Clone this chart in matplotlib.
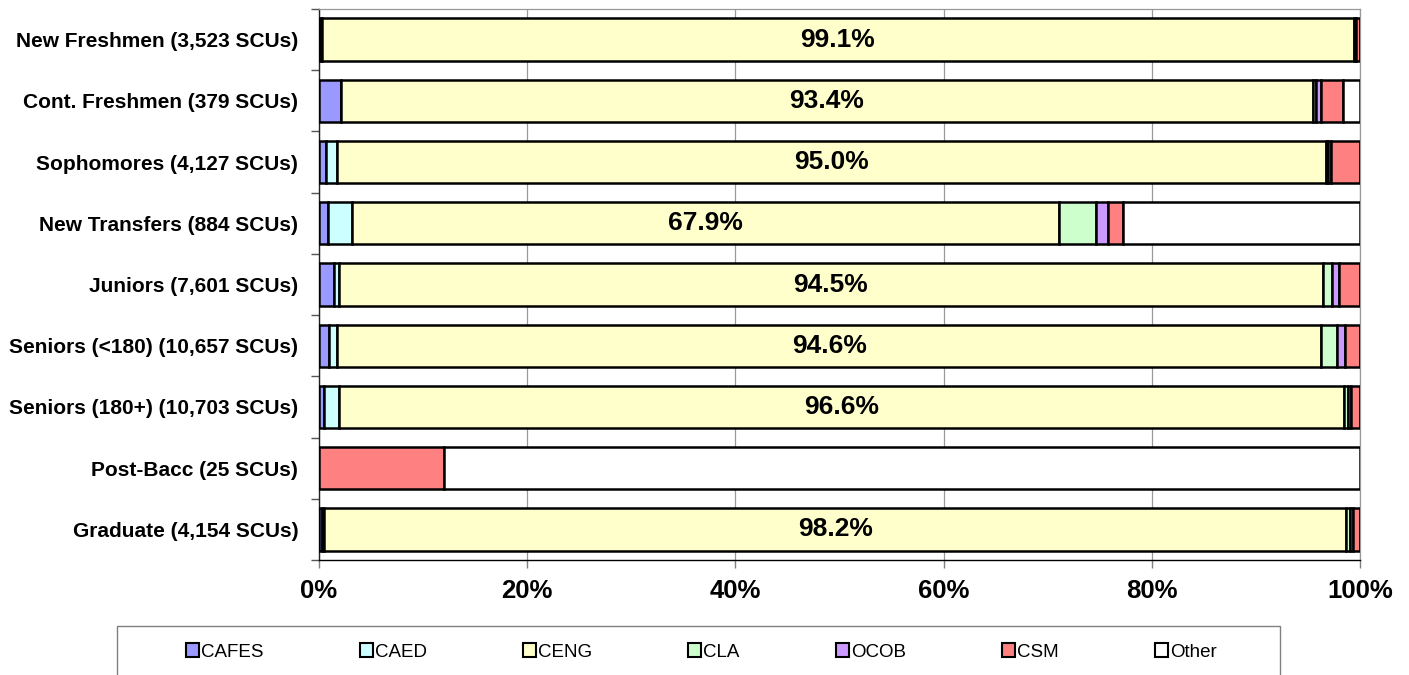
import matplotlib
matplotlib.use("Agg")
import matplotlib.pyplot as plt
from matplotlib.patches import Patch, Rectangle
import numpy as np

plt.rcParams['font.family'] = ['Liberation Sans', 'DejaVu Sans']

categories = ["New Freshmen (3,523 SCUs)", "Cont. Freshmen (379 SCUs)",
              "Sophomores (4,127 SCUs)", "New Transfers (884 SCUs)",
              "Juniors (7,601 SCUs)", "Seniors (<180) (10,657 SCUs)",
              "Seniors (180+) (10,703 SCUs)", "Post-Bacc (25 SCUs)",
              "Graduate (4,154 SCUs)"]

series_names = ["CAFES", "CAED", "CENG", "CLA", "OCOB", "CSM", "Other"]
CAFES = [0.2, 2.1, 0.7, 0.9, 1.4, 1.0, 0.5, 0.0, 0.3]
CAED = [0.1, 0.0, 1.0, 2.3, 0.5, 0.7, 1.4, 0.0, 0.2]
CENG = [99.1, 93.4, 95.0, 67.9, 94.5, 94.6, 96.6, 0.0, 98.2]
CLA = [0.1, 0.3, 0.2, 3.5, 0.9, 1.5, 0.3, 0.0, 0.3]
OCOB = [0.1, 0.5, 0.3, 1.2, 0.7, 0.8, 0.3, 0.0, 0.3]
CSM = [0.4, 2.1, 2.8, 1.4, 2.0, 1.4, 0.9, 12.0, 0.7]
Other = [0.0, 1.6, 0.0, 22.8, 0.0, 0.0, 0.0, 88.0, 0.0]
series_values = [CAFES, CAED, CENG, CLA, OCOB, CSM, Other]
colors = ["#9999FF", "#CCFFFF", "#FFFFCC", "#CCFFCC", "#CC99FF", "#FF8080", "#FFFFFF"]

W, H = 1409, 675
fig = plt.figure(figsize=(W / 100, H / 100), dpi=100)
ax = fig.add_axes([319 / W, 1 - 560 / H, (1360 - 319) / W, (560 - 9) / H])

y = np.arange(len(categories))
left = np.zeros(len(categories))
for name, vals, col in zip(series_names, series_values, colors):
    vals = np.array(vals)
    ax.barh(y, vals, left=left, height=0.69, color=col, edgecolor="black",
            linewidth=1.8, zorder=3)
    if name == "CENG":
        for yi, (l, v) in enumerate(zip(left, vals)):
            if v > 0:
                ax.text(l + v / 2, yi, f"{v:.1f}%", ha="center", va="center",
                        fontsize=19, fontweight="bold", zorder=4)
    left = left + vals

ax.set_xlim(0, 100)
ax.set_ylim(len(categories) - 0.5, -0.5)
ax.set_xticks([0, 20, 40, 60, 80, 100])
ax.set_xticklabels([f"{v}%" for v in [0, 20, 40, 60, 80, 100]],
                   fontsize=18.5, fontweight="bold")
ax.set_yticks(y)
ax.set_yticklabels(categories, fontsize=15, fontweight="bold")
ax.set_yticks(np.arange(len(categories) + 1) - 0.5, minor=True)
ax.tick_params(axis="y", which="major", length=0, pad=15)
ax.tick_params(axis="y", which="minor", length=6, color="#555555", width=1)
ax.tick_params(axis="x", which="major", length=6, color="#808080", width=1, pad=8)
ax.grid(axis="x", color="#999999", linewidth=0.9, zorder=0)
for s in ["top", "right"]:
    ax.spines[s].set_color("#999999")
    ax.spines[s].set_linewidth(0.9)
ax.spines["left"].set_color("#222222")
ax.spines["bottom"].set_color("black")
ax.spines["left"].set_linewidth(1.0)
ax.spines["bottom"].set_linewidth(1.0)

# legend frame (extends below the figure edge as in the original)
fig.patches.append(Rectangle((117 / W, -0.05), (1280 - 117) / W, (1 - 626 / H) + 0.05,
                             transform=fig.transFigure, facecolor="white",
                             edgecolor="#808080", linewidth=1.0, zorder=0))
handles = [Patch(facecolor=c, edgecolor="black", linewidth=1.5) for c in colors]
fig.legend(handles, series_names, ncol=7, loc="center left",
           bbox_to_anchor=(186 / W, 1 - 652 / H), frameon=False,
           fontsize=13.5, handlelength=0.7, handleheight=0.7,
           handletextpad=0.1, columnspacing=5.13, borderpad=0, borderaxespad=0)

fig.savefig("out.png", dpi=100)
